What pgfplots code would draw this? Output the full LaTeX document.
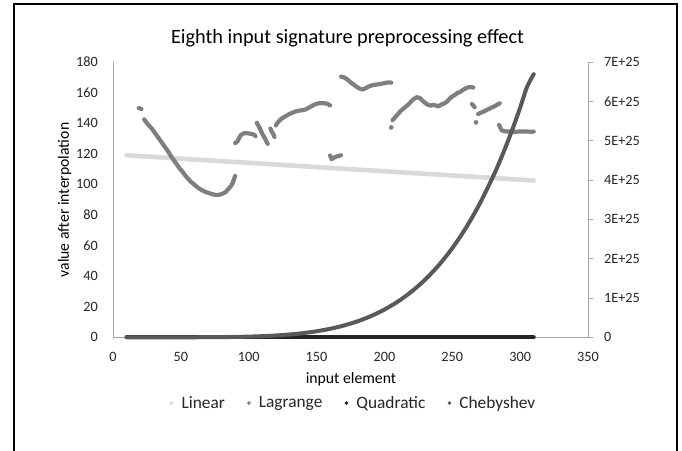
\documentclass[border=0pt]{standalone}
\usepackage{fontspec}
\setmainfont{Carlito}
\usepackage{pgfplots}
\pgfplotsset{compat=1.18}
\definecolor{clin}{HTML}{D9D9D9}
\definecolor{clag}{HTML}{7F7F7F}
\definecolor{cquad}{HTML}{262626}
\definecolor{cheb}{HTML}{595959}
\definecolor{axgray}{HTML}{A6A6A6}
\definecolor{txt}{HTML}{262626}
\pgfplotsset{
  lagstyle/.style={draw=clag, line width=4.2bp, line cap=round, line join=round, no markers, forget plot},
  lagdot/.style={only marks, mark=*, mark size=2.2bp, mark options={fill=clag, draw=clag, line width=0.2bp}, forget plot},
}
\begin{document}
\begin{tikzpicture}[x=1bp,y=1bp]
\fill[white] (0,0) rectangle (682,451);
\node[font=\fontsize{20.4}{24}\selectfont, text=black] at (347.5,412.5) {Eighth input signature preprocessing effect};
\node[font=\fontsize{15.8}{19}\selectfont, text=black] at (351,72) {input element};
\node[font=\fontsize{15.8}{19}\selectfont, text=black, rotate=90] at (64.6,251) {value after interpolation};
\begin{axis}[
  at={(113bp,113.7bp)}, anchor=south west,
  scale only axis, width=475bp, height=275.3bp,
  xmin=0, xmax=350, ymin=0, ymax=180,
  axis x line*=bottom, axis y line*=left,
  axis line style={-, draw=axgray, line width=0.75bp},
  xtick={0,50,...,350}, ytick={0,20,...,180},
  major tick length=0pt,
  /pgf/number format/assume math mode=true,
  tick label style={font=\fontsize{14.3}{17}\selectfont, text=txt},
  xticklabel style={anchor=center, yshift=-19.4bp},
  yticklabel style={anchor=east, inner sep=0pt, xshift=-15bp},
  clip=false,
]
\addplot[clin, line width=4.6bp, line cap=round, forget plot] coordinates {(10,119) (310,102.5)};
\addplot[lagstyle] coordinates {(19,149.8) (20,149.6) (21,149.2)};
\addplot[lagstyle] coordinates {(23,142.5)(25,140)(27,138)(29,136)(31,133.5)(33,131)(35,128.5)(37,126)(39,123.5)(41,121)(43,118)(45,115.5)(47,113)(49,110.5)(51,108.5)(53,106)(55,104)(57,102)(59,100.5)(61,99)(63,97.5)(65,96.5)(67,95.5)(69,94.8)(71,94.2)(73,93.6)(75,93.2)(77,93)(79,93.4)(81,94)(83,95)(85,97)(87,99)(88,100.5)(89,103)(90,105.5)};
\addplot[lagstyle] coordinates {(90,127)(91,127.5)(92,128.5)(93,130.5)(94,132)(96,133.3)(98,133.5)(100,133.3)(102,133)(104,132.5)(105,131.5)};
\addplot[lagstyle] coordinates {(106,140.2)(107,138.5)(108,137)(109,135)(110,133)(111,131.5)(112,130)(113,128)(114,126.5)};
\addplot[lagstyle] coordinates {(116,136.5)(117,134.5)(118,133)(119,131)};
\addplot[lagstyle] coordinates {(120,138.5)(121,140)(122,141)(124,142.8)(126,144)(128,145)(130,146)(132,146.8)(134,147.5)(136,148)(138,148.3)(140,148.6)(142,149)(144,150)(146,151)(148,152)(150,152.7)(152,153)(154,153.1)(156,153)(158,152.6)(160,151.6)};
\addplot[lagstyle] coordinates {(160,118.8)(161,116.5)(162,117)(164,118)(166,118.5)(168,119)};
\addplot[lagstyle] coordinates {(168,170.5)(170,170)(172,169)(174,167.5)(176,166)(178,164.8)(180,163.5)(182,162.5)(184,162)(186,162.8)(188,163.8)(190,164.5)(192,165)(194,165.2)(196,165.5)(198,165.8)(200,166.2)(202,166.5)(204,166.6)(205,166.5)};
\addplot[lagdot] coordinates {(205,137.2)};
\addplot[lagstyle] coordinates {(206,142)(208,144)(210,146)(212,148)(214,149.5)(216,151)(218,152.5)(220,154.5)(222,156)(224,157)(226,156.5)(228,154.8)(230,153.2)(232,152)(234,151.5)(236,152)(238,151.5)(240,151)(242,152.3)(244,152.8)(246,154)(248,156)(250,157.5)(252,158.5)(254,159.8)(256,160.5)(258,161.8)(260,162.8)(262,163.5)(264,163.5)(265.5,163.3)};
\addplot[lagstyle] coordinates {(264.5,152.5)(265.5,151.5)(266.5,150.5)};
\addplot[lagdot] coordinates {(267.5,140.5)};
\addplot[lagstyle] coordinates {(269,146)(271,146.8)(273,147.6)(275,148.5)(277,149.3)(279,150.2)(281,151)(283,152)(285,153)};
\addplot[lagstyle] coordinates {(284.5,138.8)(285.5,136.8)(286.5,135.3)(288,134.8)(290,134.6)(293,134.5)(296,134.4)(299,134.5)(302,134.5)(305,134.5)(308,134.4)(310,134.5)};
\addplot[cquad, line width=4bp, line cap=round, forget plot] coordinates {(10,0) (310,0)};
\end{axis}
\begin{axis}[
  at={(113bp,113.7bp)}, anchor=south west,
  scale only axis, width=475bp, height=275.3bp,
  xmin=0, xmax=350, ymin=0, ymax=7e25,
  axis x line=none, axis y line*=right,
  axis line style={-, draw=axgray, line width=0.75bp},
  ytick={0,1e25,2e25,3e25,4e25,5e25,6e25,7e25},
  yticklabels={0,1E+25,2E+25,3E+25,4E+25,5E+25,6E+25,7E+25},
  scaled y ticks=false,
  tick align=outside, major tick length=5bp,
  tick style={draw=axgray, line width=0.75bp},
  tick label style={font=\fontsize{14.3}{17}\selectfont, text=txt},
  yticklabel style={anchor=west, inner sep=0pt, xshift=11bp},
  clip=false,
  legend columns=4,
  legend cell align=left,
  legend image code/.code={\path[draw=none, fill=none] (0bp,-3bp) (13bp,3bp); \draw[mark repeat=2,mark phase=2,#1] plot coordinates {(0bp,0bp) (3bp,0bp) (13bp,0bp)};},
  legend style={draw=none, fill=none, at={(0.503,-0.2387)}, anchor=center,
    font=\fontsize{17.4}{20}\selectfont, text=txt, inner sep=0pt,
    nodes={inner sep=0pt},
    /tikz/every even column/.append style={column sep=21bp}},
]
\addplot[cheb, line width=4bp, line cap=round, line join=round, smooth, forget plot] coordinates {
(10,0)(20,0)(30,0)(40,0)(50,0.0001e25)(60,0.0009e25)(70,0.0022e25)(80,0.0048e25)(90,0.0093e25)(100,0.0168e25)(110,0.0285e25)(120,0.0459e25)(130,0.0708e25)(140,0.1057e25)(150,0.153e25)(160,0.216e25)(170,0.2985e25)(180,0.404e25)(190,0.538e25)(200,0.705e25)(210,0.911e25)(220,1.163e25)(230,1.467e25)(240,1.832e25)(250,2.267e25)(260,2.78e25)(270,3.383e25)(280,4.085e25)(285,4.477e25)(290,4.9e25)(295,5.353e25)(300,5.84e25)(305,6.36e25)(310,6.69e25)};
\addlegendimage{only marks, mark=*, mark size=1.6bp, clin, mark options={fill=clin, draw=clin}}
\addlegendentry{Linear}
\addlegendimage{only marks, mark=*, mark size=1.6bp, clag, mark options={fill=clag, draw=clag}}
\addlegendentry{Lagrange}
\addlegendimage{only marks, mark=*, mark size=1.6bp, cquad, mark options={fill=cquad, draw=cquad}}
\addlegendentry{Quadratic}
\addlegendimage{only marks, mark=*, mark size=1.6bp, cheb, mark options={fill=cheb, draw=cheb}}
\addlegendentry{Chebyshev}
\end{axis}
\draw[black, line width=2bp] (13.5,-20) rectangle (676.5,446.5);
\pgfresetboundingbox
\useasboundingbox (0,0) rectangle (682,451);
\end{tikzpicture}
\end{document}
